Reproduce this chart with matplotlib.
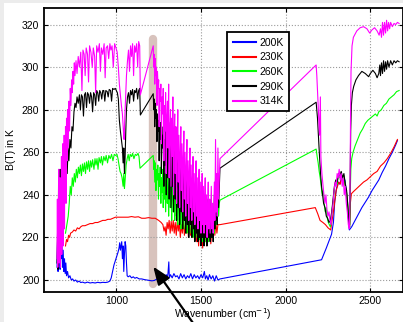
import numpy as np
import matplotlib
matplotlib.use('Agg')
import matplotlib.pyplot as plt
from matplotlib.patches import Rectangle

plt.rcParams['font.family'] = ['Liberation Sans', 'DejaVu Sans']

labels = ['200K', '230K', '260K', '290K', '314K']
colors = ['#0000ff', '#ff0000', '#00ff00', '#000000', '#ff00ff']

# (wavenumber, brightness temperature)
k200 = [(650, 206), (653, 218), (656, 204), (659, 226), (662, 207), (665, 222), (668, 205),
        (671, 228), (674, 210), (678, 220), (682, 206), (686, 214), (690, 204), (694, 210),
        (698, 203), (702, 208), (706, 202), (712, 204), (718, 201), (726, 202), (734, 200),
        (742, 200.5), (750, 199.5), (760, 200), (770, 199), (780, 199.5), (790, 198.8),
        (800, 199), (815, 198.6), (830, 199), (845, 198.6), (860, 198.8), (875, 198.6),
        (890, 198.9), (905, 198.7), (920, 198.9), (935, 198.8), (950, 199), (962, 199.5),
        (970, 201), (978, 204), (986, 207), (994, 209), (1002, 211), (1010, 213), (1016, 215),
        (1020, 217.5), (1024, 214), (1028, 216), (1032, 218), (1036, 210), (1040, 216),
        (1044, 204), (1048, 212), (1052, 218), (1056, 216), (1060, 208), (1064, 202),
        (1070, 201.5), (1080, 202), (1090, 201), (1100, 201.5), (1110, 200.8), (1120, 201.2),
        (1135, 200.5), (1150, 200.5), (1165, 200.2), (1180, 200), (1195, 199.8), (1210, 199.6),
        (1225, 199.8), (1240, 200.5), (1255, 201), (1265, 200.5), (1275, 202), (1285, 201),
        (1295, 202.5), (1300, 201), (1305, 203), (1310, 208.5), (1313, 201), (1320, 202.5),
        (1330, 201), (1340, 203), (1350, 201.5), (1360, 202), (1370, 200.5), (1380, 203),
        (1390, 201), (1400, 202.5), (1410, 200.5), (1420, 202), (1430, 201), (1440, 203),
        (1450, 200.5), (1460, 202.5), (1470, 201), (1480, 202), (1490, 200.5), (1500, 202.5),
        (1510, 201), (1520, 204), (1526, 200.5), (1534, 202), (1542, 200), (1550, 202.5),
        (1560, 200.5), (1570, 202), (1580, 199.5), (1590, 202), (1600, 200), (1612, 200.5),
        (2212, 209.5), (2240, 215), (2271, 221.5), (2282, 227), (2290, 237), (2300, 243),
        (2310, 246), (2320, 245), (2330, 248), (2340, 246), (2350, 247), (2358, 242),
        (2364, 236), (2370, 229), (2376, 223.5), (2390, 225), (2410, 228), (2430, 231),
        (2450, 234), (2470, 236.5), (2490, 239), (2510, 242), (2530, 244.5), (2550, 247),
        (2570, 250.5), (2590, 253.5), (2610, 257), (2630, 260), (2650, 263.5), (2660, 265.5)]

k230 = [(700, 216), (706, 219), (712, 218), (718, 221), (724, 220), (730, 222), (740, 222.5),
        (750, 223.5), (760, 223), (770, 224.5), (780, 224), (790, 225), (800, 225.5),
        (815, 225.5), (830, 226), (845, 226.5), (860, 226.5), (875, 227), (890, 227),
        (905, 227.5), (920, 228), (935, 228), (950, 228.5), (965, 228.5), (980, 229),
        (995, 229.5), (1010, 229.5), (1030, 229.5), (1050, 229.5), (1070, 229.5), (1090, 229.8),
        (1110, 229.5), (1130, 229.7), (1150, 229), (1170, 229), (1190, 229.3), (1210, 229),
        (1230, 229), (1250, 228), (1265, 227), (1275, 226), (1282, 223), (1288, 225),
        (1294, 221), (1300, 227), (1306, 224), (1312, 228), (1318, 222), (1324, 227.5),
        (1330, 223), (1336, 228), (1342, 222), (1348, 227), (1354, 221), (1360, 228),
        (1366, 223), (1372, 227), (1378, 220), (1384, 226), (1390, 222), (1396, 228),
        (1402, 221), (1408, 226), (1414, 222), (1420, 227), (1426, 220), (1432, 226),
        (1438, 221), (1444, 227), (1450, 220), (1456, 225), (1462, 219), (1468, 226),
        (1474, 218), (1480, 224), (1486, 216), (1492, 225), (1498, 219), (1504, 223),
        (1510, 215), (1516, 224), (1522, 218), (1528, 222), (1534, 216), (1540, 224),
        (1546, 219), (1552, 223), (1558, 217), (1564, 224), (1570, 220), (1576, 226),
        (1582, 221), (1588, 227), (1594, 222), (1600, 226), (1612, 226), (2175, 234),
        (2190, 231), (2203, 228), (2220, 227), (2235, 226), (2250, 224.5), (2266, 223.5),
        (2274, 228), (2282, 232), (2290, 237), (2298, 242), (2306, 244), (2314, 246),
        (2322, 245), (2330, 248), (2338, 246), (2346, 247), (2354, 243), (2360, 240),
        (2366, 235), (2372, 228), (2378, 226), (2382, 236), (2388, 240.5), (2400, 241.5),
        (2420, 243), (2440, 244.5), (2460, 246), (2480, 247), (2500, 248.5), (2520, 250),
        (2540, 251), (2560, 253.5), (2580, 255), (2600, 257), (2620, 259.5), (2640, 262.5),
        (2660, 266)]

k260 = [(700, 222), (708, 226), (716, 230), (722, 236), (728, 244), (734, 240), (740, 248),
        (746, 244), (752, 250), (758, 246), (764, 252), (770, 248), (776, 253), (782, 250),
        (788, 254), (794, 249), (800, 254.5), (806, 251), (812, 255), (818, 250), (824, 255.5),
        (830, 252), (836, 256), (842, 251), (848, 256), (854, 253), (860, 256.5), (868, 252),
        (874, 257), (880, 254), (886, 257), (892, 252), (898, 257.5), (906, 255), (912, 258),
        (918, 254), (926, 258), (934, 256), (940, 258.5), (948, 255), (956, 258.5), (964, 257),
        (972, 259), (980, 256), (988, 259), (996, 258.5), (1004, 259), (1010, 257), (1016, 254),
        (1022, 251), (1028, 250), (1034, 248), (1040, 244), (1044, 250), (1048, 243),
        (1052, 247), (1058, 254), (1064, 257), (1070, 259), (1076, 256), (1082, 259),
        (1090, 258), (1096, 259.5), (1104, 257), (1112, 259), (1120, 258.5), (1128, 259.5),
        (1134, 258), (1140, 252.5), (1218, 258.5), (1221, 252), (1224, 256), (1227, 246),
        (1231, 255), (1234, 242), (1238, 252), (1242, 247), (1245, 254), (1249, 238),
        (1252, 250), (1256, 244), (1259, 253), (1263, 236), (1266, 248), (1270, 241),
        (1273, 252), (1277, 234), (1280, 246), (1284, 238), (1287, 250), (1291, 232),
        (1294, 244), (1298, 254), (1301, 236), (1305, 248), (1309, 230), (1312, 242),
        (1316, 250), (1319, 234), (1323, 246), (1327, 228), (1330, 240), (1334, 250),
        (1337, 232), (1341, 244), (1345, 228), (1348, 238), (1352, 248), (1355, 230),
        (1359, 242), (1363, 226), (1366, 236), (1370, 246), (1373, 228), (1377, 240),
        (1381, 224), (1384, 234), (1388, 244), (1391, 228), (1395, 238), (1399, 224),
        (1402, 232), (1406, 242), (1409, 226), (1413, 236), (1417, 222), (1420, 232),
        (1424, 240), (1427, 226), (1431, 236), (1435, 222), (1438, 230), (1442, 240),
        (1445, 224), (1449, 234), (1453, 220), (1456, 230), (1460, 238), (1463, 224),
        (1467, 232), (1471, 220), (1474, 228), (1478, 238), (1481, 222), (1485, 232),
        (1489, 219), (1492, 228), (1496, 236), (1499, 222), (1503, 230), (1507, 218),
        (1510, 228), (1514, 236), (1517, 222), (1521, 230), (1525, 218), (1528, 226),
        (1532, 236), (1535, 222), (1539, 230), (1543, 218), (1546, 228), (1550, 236),
        (1553, 222), (1557, 230), (1561, 220), (1564, 228), (1568, 236), (1571, 224),
        (1575, 232), (1579, 222), (1582, 232), (1586, 240), (1589, 226), (1593, 236),
        (1597, 228), (1600, 238), (1604, 230), (1608, 236), (1612, 237.5), (2180, 261.5),
        (2186, 258), (2192, 255), (2198, 251), (2204, 248), (2210, 244), (2216, 240),
        (2222, 242), (2228, 236), (2234, 232), (2240, 234), (2246, 229), (2252, 227),
        (2258, 226), (2264, 225), (2270, 229), (2276, 234), (2282, 238), (2288, 243),
        (2296, 246), (2304, 245), (2312, 249), (2320, 248), (2328, 250), (2336, 247),
        (2344, 249), (2352, 244), (2360, 241), (2366, 236), (2372, 229), (2378, 226),
        (2381, 240), (2385, 252), (2390, 257), (2398, 260), (2410, 263), (2425, 266),
        (2440, 269), (2455, 271), (2470, 273.5), (2485, 275), (2500, 276), (2515, 277),
        (2530, 278), (2540, 277), (2550, 279), (2565, 280), (2580, 282), (2595, 283),
        (2610, 285), (2625, 286), (2640, 287), (2655, 288.5), (2670, 289)]

k290 = [(650, 208), (653, 222), (656, 205), (659, 246), (662, 210), (665, 228), (668, 252),
        (671, 215), (674, 232), (678, 220), (682, 240), (686, 230), (690, 248), (694, 238),
        (698, 252), (702, 246), (706, 258), (710, 250), (715, 262), (720, 256), (726, 266),
        (732, 262), (738, 272), (744, 270), (750, 279), (756, 283), (762, 281), (768, 286),
        (775, 283), (782, 287), (788, 280), (794, 287), (800, 286), (806, 277), (812, 287),
        (818, 288), (824, 281), (830, 288), (836, 287), (842, 283), (848, 288), (854, 286),
        (860, 279), (866, 288), (872, 287), (878, 282), (884, 289), (890, 288), (896, 284),
        (902, 289), (908, 288), (914, 285), (920, 289), (926, 289), (932, 284), (938, 289),
        (946, 288.5), (952, 286), (958, 289.5), (966, 289), (972, 284), (978, 290),
        (986, 289.5), (994, 290), (1000, 289), (1006, 288), (1012, 285), (1018, 275),
        (1024, 270), (1030, 266), (1036, 262), (1040, 255), (1044, 262), (1048, 250),
        (1052, 258), (1056, 270), (1060, 280), (1066, 286), (1072, 288), (1078, 283),
        (1084, 289), (1090, 287), (1096, 289.5), (1102, 284), (1108, 289), (1114, 288),
        (1120, 290), (1126, 285), (1132, 289), (1138, 290), (1142, 277.5), (1218, 287.5),
        (1221, 280), (1224, 285), (1227, 272), (1230, 283), (1233, 276), (1236, 280),
        (1240, 265), (1243, 278), (1247, 270), (1250, 275), (1253, 256), (1256, 272),
        (1260, 266), (1263, 274), (1266, 250), (1270, 268), (1274, 262), (1277, 272),
        (1281, 244), (1284, 266), (1288, 254), (1291, 270), (1295, 240), (1298, 260),
        (1302, 268), (1305, 248), (1309, 274), (1312, 238), (1316, 256), (1320, 264),
        (1323, 234), (1327, 260), (1330, 244), (1334, 268), (1338, 232), (1341, 254),
        (1345, 262), (1348, 238), (1352, 258), (1356, 228), (1359, 248), (1363, 264),
        (1366, 234), (1370, 254), (1374, 226), (1377, 244), (1381, 258), (1384, 232),
        (1388, 250), (1392, 224), (1395, 242), (1399, 256), (1402, 228), (1406, 246),
        (1410, 222), (1413, 240), (1417, 252), (1420, 226), (1424, 244), (1428, 220),
        (1431, 238), (1435, 250), (1438, 226), (1442, 242), (1446, 220), (1449, 236),
        (1453, 246), (1456, 224), (1460, 238), (1464, 218), (1467, 234), (1471, 244),
        (1474, 222), (1478, 238), (1482, 218), (1485, 232), (1489, 242), (1492, 220),
        (1496, 236), (1500, 216), (1503, 230), (1507, 240), (1510, 220), (1514, 234),
        (1518, 216), (1521, 228), (1525, 238), (1528, 220), (1532, 232), (1536, 216),
        (1539, 228), (1543, 238), (1546, 220), (1550, 232), (1554, 218), (1557, 228),
        (1561, 238), (1564, 220), (1568, 230), (1572, 218), (1575, 226), (1579, 240),
        (1582, 224), (1586, 248), (1589, 228), (1593, 244), (1596, 226), (1600, 250),
        (1604, 234), (1608, 244), (1612, 252.5), (2180, 283.5), (2184, 280), (2188, 276),
        (2192, 270), (2196, 264), (2200, 258), (2206, 250), (2212, 244), (2218, 240),
        (2224, 236), (2232, 234), (2240, 230), (2248, 229), (2256, 227), (2264, 228),
        (2272, 232), (2280, 238), (2288, 244), (2296, 247), (2304, 246), (2312, 250),
        (2320, 249), (2328, 251), (2336, 248), (2344, 250), (2352, 245), (2360, 242),
        (2366, 236), (2372, 228), (2378, 225), (2381, 250), (2384, 270), (2388, 282),
        (2394, 288), (2402, 291), (2415, 294), (2430, 296), (2450, 298), (2470, 297),
        (2490, 295.5), (2500, 297), (2515, 298.5), (2530, 297), (2540, 295), (2550, 297),
        (2556, 301), (2560, 296), (2566, 302), (2572, 297), (2578, 303), (2584, 298),
        (2590, 302.5), (2596, 299), (2602, 303), (2610, 300), (2620, 303), (2630, 301),
        (2640, 303), (2650, 302), (2660, 303), (2670, 302.5)]

k314 = [(650, 210), (652, 238), (654, 206), (656, 226), (658, 212), (660, 252), (662, 208),
        (664, 230), (666, 214), (668, 248), (670, 206), (672, 240), (674, 218), (676, 258),
        (678, 212), (680, 246), (682, 222), (684, 264), (686, 216), (688, 250), (690, 230),
        (692, 268), (694, 224), (696, 258), (698, 240), (700, 272), (703, 236), (706, 276),
        (709, 256), (712, 280), (716, 262), (720, 284), (724, 270), (728, 290), (732, 282),
        (736, 294), (740, 288), (744, 298), (748, 292), (752, 302), (756, 296), (762, 303),
        (768, 297), (775, 305), (782, 300), (790, 307), (797, 289), (803, 308), (810, 306),
        (816, 296), (822, 309), (830, 306), (836, 293), (842, 310), (850, 307), (858, 300),
        (864, 309), (872, 305), (878, 288), (884, 310), (892, 307), (900, 311), (906, 298),
        (912, 309), (920, 306), (928, 311), (934, 295), (940, 309), (948, 310), (955, 304),
        (962, 311), (968, 308), (975, 310), (982, 300), (990, 311), (998, 309), (1005, 307),
        (1012, 300), (1018, 292), (1024, 287), (1030, 282), (1036, 278), (1042, 270),
        (1046, 266), (1050, 276), (1055, 286), (1060, 296), (1066, 303), (1072, 308),
        (1078, 298), (1084, 310), (1090, 305), (1096, 311), (1102, 296), (1108, 310),
        (1114, 307), (1120, 311), (1126, 300), (1132, 312), (1138, 310), (1142, 287),
        (1218, 310), (1221, 300), (1224, 306), (1227, 292), (1230, 304), (1233, 296),
        (1236, 300), (1240, 282), (1243, 298), (1247, 290), (1250, 294), (1253, 272),
        (1256, 290), (1260, 284), (1263, 292), (1266, 264), (1270, 286), (1274, 278),
        (1277, 290), (1281, 256), (1284, 282), (1288, 270), (1291, 288), (1295, 250),
        (1298, 276), (1302, 284), (1305, 262), (1309, 292), (1312, 248), (1316, 270),
        (1320, 280), (1323, 244), (1327, 276), (1330, 258), (1334, 286), (1338, 240),
        (1341, 268), (1345, 278), (1348, 250), (1352, 272), (1356, 236), (1359, 262),
        (1363, 280), (1366, 246), (1370, 268), (1374, 234), (1377, 258), (1381, 272),
        (1384, 242), (1388, 264), (1392, 232), (1395, 256), (1399, 270), (1402, 238),
        (1406, 260), (1410, 230), (1413, 252), (1417, 266), (1420, 236), (1424, 256),
        (1428, 228), (1431, 250), (1435, 262), (1438, 234), (1442, 254), (1446, 228),
        (1449, 246), (1453, 258), (1456, 232), (1460, 250), (1464, 226), (1467, 244),
        (1471, 256), (1474, 230), (1478, 248), (1482, 224), (1485, 240), (1489, 252),
        (1492, 228), (1496, 246), (1500, 222), (1503, 238), (1507, 250), (1510, 226),
        (1514, 244), (1518, 222), (1521, 236), (1525, 248), (1528, 226), (1532, 240),
        (1536, 220), (1539, 234), (1543, 246), (1546, 224), (1550, 238), (1554, 222),
        (1557, 232), (1561, 244), (1564, 224), (1568, 236), (1572, 222), (1575, 230),
        (1579, 246), (1582, 228), (1586, 266), (1589, 232), (1593, 250), (1596, 230),
        (1600, 262), (1604, 238), (1608, 248), (1612, 257), (2180, 301), (2184, 296),
        (2188, 289), (2192, 282), (2196, 274), (2200, 268), (2205, 286), (2208, 258),
        (2214, 250), (2220, 245), (2226, 240), (2232, 236), (2238, 240), (2244, 233),
        (2250, 230), (2256, 232), (2262, 228), (2268, 226), (2274, 232), (2280, 236),
        (2286, 242), (2292, 246), (2298, 244), (2304, 250), (2310, 248), (2316, 252),
        (2322, 247), (2328, 250), (2334, 244), (2340, 248), (2346, 240), (2352, 244),
        (2358, 236), (2364, 232), (2370, 226), (2376, 224), (2380, 240), (2383, 275),
        (2386, 298), (2392, 310), (2400, 314), (2420, 317), (2440, 318.5), (2460, 319),
        (2480, 318), (2496, 316), (2510, 317.5), (2525, 318.5), (2540, 317), (2552, 315),
        (2560, 318), (2566, 314), (2572, 321), (2578, 315), (2584, 321), (2590, 316),
        (2596, 322), (2602, 317), (2608, 321), (2614, 318), (2620, 321), (2630, 319),
        (2640, 320.5), (2650, 320), (2660, 321), (2670, 320.5)]

series = [k200, k230, k260, k290, k314]

# marked channel
band_wn = 1218
band_lo, band_hi = 198, 313


def main():
    fig = plt.figure(figsize=(4.03, 3.22), dpi=100, facecolor='#ececec')
    fig.patches.append(Rectangle((4 / 403, 0), 1, (322 - 2.5) / 322, transform=fig.transFigure,
                                 facecolor='white', edgecolor='none', zorder=-10))
    ax = fig.add_axes([43.5 / 403, 30.3 / 322, 359 / 403, 284.2 / 322])

    ax.plot([band_wn, band_wn], [band_lo, band_hi], color='#d8c3bd', lw=6,
            solid_capstyle='round', zorder=1.5)

    for pts, lab, c in zip(series, labels, colors):
        d = np.array(pts, dtype=float)
        ax.plot(d[:, 0], d[:, 1], color=c, lw=0.8, label=lab, zorder=2)

    ax.set_xlim(570, 2690)
    ax.set_ylim(194.5, 328)
    ax.set_xticks([1000, 1500, 2000, 2500])
    ax.set_yticks(range(200, 321, 20))
    ax.grid(True, ls=':', color='#9a9a9a', lw=0.8)
    ax.tick_params(direction='in', length=3, labelsize=7.5, top=True, right=True, pad=3)
    for s in ax.spines.values():
        s.set_linewidth(1.3)

    ax.set_xlabel('Wavenumber (cm$^{-1}$)', fontsize=7.5, labelpad=0.5)
    ax.set_ylabel('B(T) in K', fontsize=7.5, labelpad=4)

    leg = ax.legend(loc='upper left', bbox_to_anchor=(0.512, 0.9127), borderaxespad=0,
                    fontsize=7.5, fancybox=False, framealpha=1, edgecolor='black',
                    handlelength=2.3, handletextpad=0.3, labelspacing=0.45, borderpad=0.5)
    leg.get_frame().set_linewidth(1.3)
    for h in leg.get_lines():
        h.set_linewidth(1.5)

    ax.annotate('', xy=(band_wn, 206.3), xytext=(205, -18), textcoords='figure pixels',
                annotation_clip=False,
                arrowprops=dict(arrowstyle='-|>,head_length=0.9,head_width=0.35',
                                color='black', lw=1.6, mutation_scale=12, shrinkA=0, shrinkB=0))

    fig.savefig('out.png', dpi=100, facecolor=fig.get_facecolor())


if __name__ == '__main__':
    main()
